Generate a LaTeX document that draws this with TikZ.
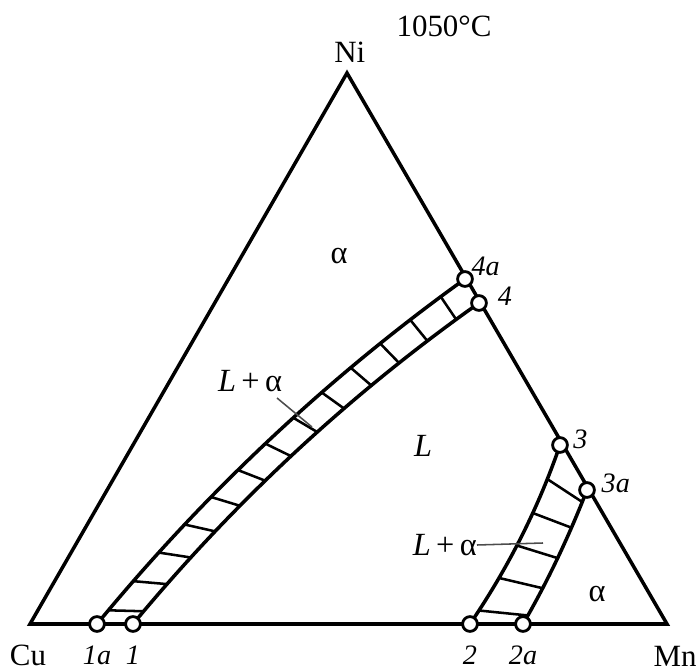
\documentclass[tikz,border=0pt]{standalone}
\usepackage{fontspec}
\setmainfont{Liberation Serif}
\usetikzlibrary{positioning}

\begin{document}
\begin{tikzpicture}[x=0.025cm,y=-0.025cm,
    edge/.style={line width=2.5pt},
    tie/.style={line width=1.8pt},
    lead/.style={line width=1.1pt,black!70},
    pt/.style={circle,draw,fill=white,line width=2pt,inner sep=0pt,minimum size=0.37cm},
    lbl/.style={font=\fontsize{20}{23}\selectfont\itshape,inner sep=1pt},
    elem/.style={font=\fontsize{22}{26}\selectfont,inner sep=0pt},
    phase/.style={font=\fontsize{23}{27}\selectfont,inner sep=0pt}]
  \useasboundingbox (0,0) rectangle (699,671);
  % triangle Cu-Mn-Ni
  \coordinate (Cu) at (30,624);
  \coordinate (Mn) at (667,624);
  \coordinate (Ni) at (347,73);
  \draw[edge] (Cu) -- (Mn) -- (Ni) -- cycle;
  % points on the sides
  \coordinate (c1a) at (97,624);
  \coordinate (c1) at (133,624);
  \coordinate (c2) at (470,624);
  \coordinate (c2a) at (523,624);
  \coordinate (c3) at (560,445);
  \coordinate (c3a) at (587,490);
  \coordinate (c4a) at (465,279);
  \coordinate (c4) at (479,303);
  % control points of the bands
  \coordinate (o1) at (205,493);
  \coordinate (o2) at (327,378);
  \coordinate (i1) at (234,502);
  \coordinate (i2) at (349,395);
  \coordinate (r1) at (508,568);
  \coordinate (r2) at (538,509);
  \coordinate (s1) at (548,581);
  \coordinate (s2) at (569,536);
  % left band L+alpha
  \draw[edge] (c1a) .. controls (o1) and (o2) .. (c4a);
  \draw[edge] (c1) .. controls (i1) and (i2) .. (c4);
  \foreach \t in {0.035,0.1105,...,0.95} {
    \path (c1a) .. controls (o1) and (o2) .. (c4a) coordinate[pos=\t] (ta);
    \path (c1) .. controls (i1) and (i2) .. (c4) coordinate[pos=\t] (tb);
    \draw[tie] (ta) -- (tb);
  }
  % right band L+alpha
  \draw[edge] (c2) .. controls (r1) and (r2) .. (c3);
  \draw[edge] (c2a) .. controls (s1) and (s2) .. (c3a);
  \foreach \s/\t in {0.08/0.066,0.27/0.274,0.455/0.5,0.636/0.725,0.82/0.913} {
    \path (c2) .. controls (r1) and (r2) .. (c3) coordinate[pos=\s] (ta);
    \path (c2a) .. controls (s1) and (s2) .. (c3a) coordinate[pos=\t] (tb);
    \draw[tie] (ta) -- (tb);
  }
  % circles
  \foreach \p in {1a,1,2,2a,3,3a,4,4a}
    \node[pt] (p\p) at (c\p) {};
  % point labels
  \node[lbl,below=8pt of p1a] {1a};
  \node[lbl,below=8pt of p1] {1};
  \node[lbl,below=8pt of p2] {2};
  \node[lbl,below=8pt of p2a] {2a};
  \node[lbl,right=2pt of p3,yshift=4pt] {3};
  \node[lbl,right=3pt of p3a,yshift=5pt] {3a};
  \node[lbl,above right=-3pt and -1pt of p4a] {4a};
  \node[lbl,right=6pt of p4,yshift=5pt] {4};
  % element names and temperature
  \node[elem,above=7pt of Ni,xshift=2pt] (ni) {Ni};
  \node[elem] (cu) at (28,655) {Cu};
  \node[elem,anchor=east] (mn) at (697,656) {Mn};
  \node[elem] (temp) at (444,26) {1050°C};
  % phase fields
  \node[phase] (a1) at (339,256) {α};
  \node[phase] (liq) at (423,446) {\itshape L};
  \node[phase] (la1) at (250,381) {\textit{L}\,+\,α};
  \node[phase,anchor=east] (la2) at (477,545) {\textit{L}\,+\,α};
  \node[phase] (a2) at (597,594) {α};
  % leaders
  \coordinate (k1) at (312,427);
  \coordinate (k2) at (543,543);
  \draw[lead] (277,398) -- (k1);
  \draw[lead] (la2.east) -- (k2);
\end{tikzpicture}
\end{document}
